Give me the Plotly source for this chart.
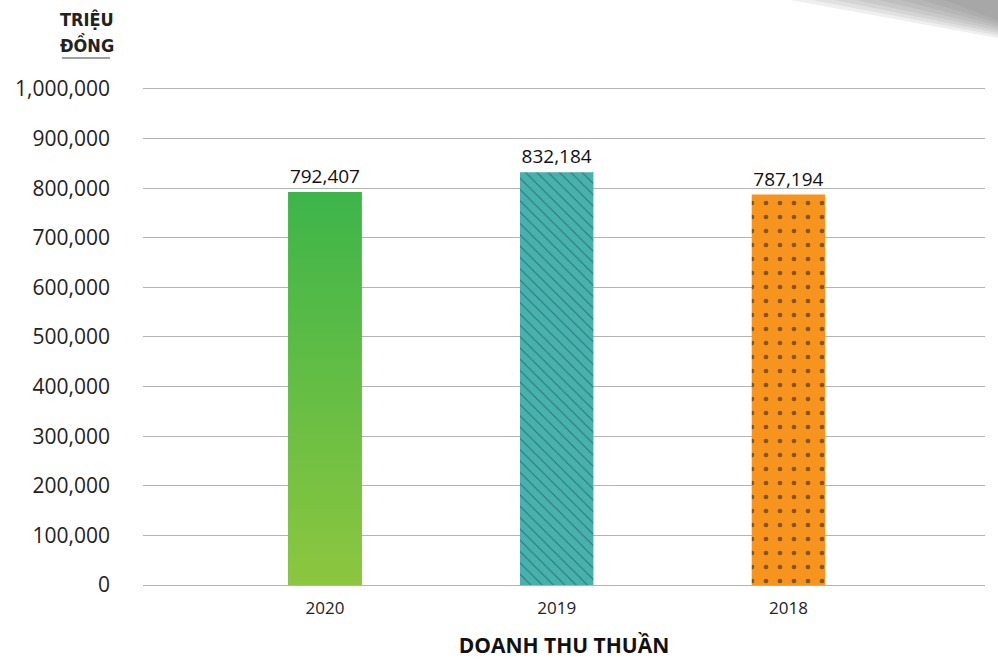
import plotly.graph_objects as go

years = ["2020", "2019", "2018"]
values = [792407, 832184, 787194]
value_labels = ["792,407", "832,184", "787,194"]
y_ticks = [0, 100000, 200000, 300000, 400000, 500000, 600000, 700000, 800000, 900000, 1000000]
y_ticktext = ["0", "100,000", "200,000", "300,000", "400,000", "500,000", "600,000",
              "700,000", "800,000", "900,000", "1,000,000"]
x_title = "DOANH THU THUẦN"
unit_line1 = "TRIỆU"
unit_line2 = "ĐỒNG"

bar_colors = ["#3db54a", "#47b1ae", "#f7941d"]
pat_shapes = ["", "\\", "."]
pat_fg = ["#3db54a", "#12302f", "#111111"]
pat_size = [8, 8, 14]
pat_solid = [0.2, 0.12, 0.09]

FONT = "Open Sans"
W, H = 998, 659
ML, MR, MT, MB = 143, 13, 84, 74
PW, PH = W - ML - MR, H - MT - MB
YMAX = 1010000
BAR_W = 0.317
xs = list(range(len(years)))


def px2paper(px, py):
    return (px - ML) / PW, (H - MB - py) / PH


fig = go.Figure()

for i in xs:
    fig.add_trace(go.Bar(
        x=[xs[i]], y=[values[i]], width=BAR_W,
        marker=dict(
            color=bar_colors[i],
            line=dict(width=0),
            pattern=dict(shape=pat_shapes[i], fgcolor=pat_fg[i], bgcolor=bar_colors[i],
                         size=pat_size[i], solidity=pat_solid[i], fillmode="overlay"),
        ),
        text=[value_labels[i]], textposition="outside", cliponaxis=False,
        textfont=dict(family=FONT, size=19, color="#111111"),
        hoverinfo="skip", showlegend=False,
    ))

# gradient overlay for the 2020 bar
i0 = 0
fig.add_trace(go.Scatter(
    x=[xs[i0] - BAR_W / 2, xs[i0] - BAR_W / 2, xs[i0] + BAR_W / 2, xs[i0] + BAR_W / 2, xs[i0] - BAR_W / 2],
    y=[0, values[i0], values[i0], 0, 0],
    mode="lines", line=dict(width=0), fill="toself",
    fillgradient=dict(type="vertical", colorscale=[[0, "#8dc63f"], [1, "#3db54a"]]),
    hoverinfo="skip", showlegend=False,
))

# decorative gray corner wedge (layered for a soft gradient)
shapes = []
for k in range(8):
    x0 = 790 + k * 22
    shapes.append(dict(
        type="path", xref="paper", yref="paper",
        path="M {} {} L {} {} L {} {} Z".format(
            *px2paper(x0, 0), *px2paper(W, 0), *px2paper(W, 38 - k * 2.5)),
        fillcolor="rgba(120,120,120,0.12)", line=dict(width=0), layer="above",
    ))
# underline under unit label
ax0, ay0 = px2paper(62, 58)
ax1, ay1 = px2paper(110, 58)
shapes.append(dict(type="line", xref="paper", yref="paper", x0=ax0, y0=ay0, x1=ax1, y1=ay1,
                   line=dict(color="#808080", width=1.5)))

annotations = []
for txt, py in [(unit_line1, 20), (unit_line2, 45)]:
    ax, ay = px2paper(87, py)
    annotations.append(dict(text="<b>" + txt + "</b>", xref="paper", yref="paper", x=ax, y=ay,
                            xanchor="center", yanchor="middle", showarrow=False,
                            font=dict(family="DejaVu Sans Condensed, Roboto", size=18, color="#222222")))

fig.update_layout(
    width=W, height=H,
    margin=dict(l=ML, r=MR, t=MT, b=MB),
    paper_bgcolor="white", plot_bgcolor="white",
    shapes=shapes, annotations=annotations,
    xaxis=dict(
        range=[-0.785, 2.848], tickvals=xs, ticktext=years,
        tickfont=dict(family=FONT, size=17, color="#222222"),
        showgrid=False, zeroline=False, showline=False, ticks="",
        ticklabelstandoff=11, automargin=False,
        title=dict(text="<b>" + x_title + "</b>", font=dict(family=FONT, size=21, color="#111111"),
                   standoff=21),
    ),
    yaxis=dict(
        range=[0, YMAX], tickvals=y_ticks, ticktext=y_ticktext,
        tickfont=dict(family=FONT, size=21, color="#222222"),
        showgrid=True, gridcolor="#b3b3b3", gridwidth=1,
        zeroline=True, zerolinecolor="#b3b3b3", zerolinewidth=1,
        showline=False, ticks="", ticklabelstandoff=32, automargin=False,
    ),
)

fig.write_html("out.html")
